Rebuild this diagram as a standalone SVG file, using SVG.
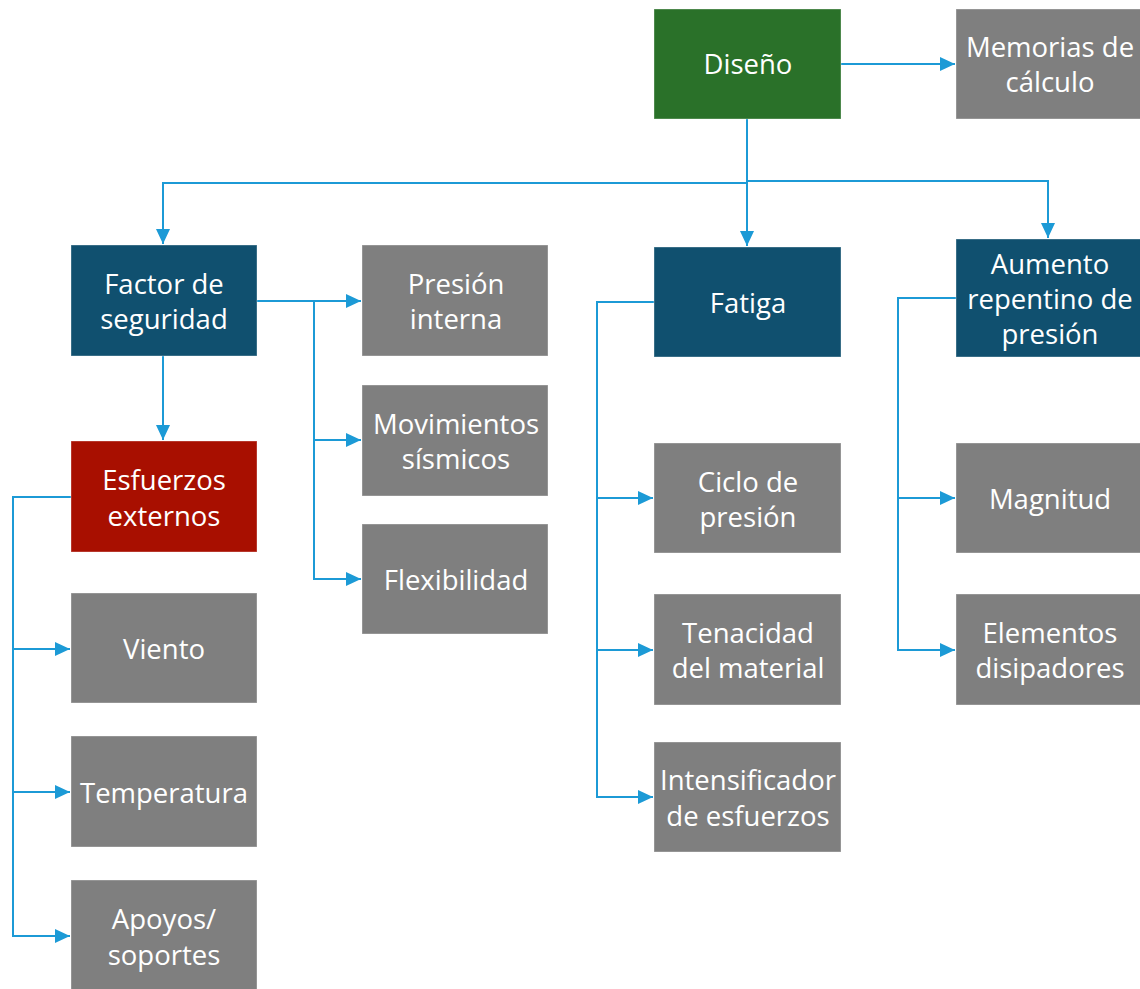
<svg xmlns="http://www.w3.org/2000/svg" width="1140" height="989" viewBox="0 0 1140 989">
  <style>
    .box { stroke: #ffffff; stroke-opacity: 0.35; stroke-width: 1; }
    .root { fill: #2A7129; }
    .main { fill: #10506F; }
    .alert { fill: #A80F00; }
    .leaf { fill: #7F7F7F; }
    .lbl { fill: #ffffff; font-family: "Open Sans", "Noto Sans", "DejaVu Sans", sans-serif; font-size: 27.5px; text-anchor: middle; dominant-baseline: central; }
    .conn { fill: none; stroke: #1C9AD6; stroke-width: 2; }
  </style>
  <defs>
    <marker id="arr" viewBox="0 0 15 14" refX="15" refY="7" markerWidth="15" markerHeight="14" markerUnits="userSpaceOnUse" orient="auto">
      <path d="M0,0 L15,7 L0,14 Z" fill="#1C9AD6"/>
    </marker>
  </defs>

  <rect width="1140" height="989" fill="#ffffff"/>

  <g id="connectors">
    <path class="conn" d="M841,64 H955" marker-end="url(#arr)"/>
    <path class="conn" d="M747,119 V183 H163 V244" marker-end="url(#arr)"/>
    <path class="conn" d="M747,183 V246" marker-end="url(#arr)"/>
    <path class="conn" d="M747,181 H1048 V238" marker-end="url(#arr)"/>
    <path class="conn" d="M163,356 V440" marker-end="url(#arr)"/>
    <path class="conn" d="M257,301 H361" marker-end="url(#arr)"/>
    <path class="conn" d="M314,301 V440 H361" marker-end="url(#arr)"/>
    <path class="conn" d="M314,440 V579 H361" marker-end="url(#arr)"/>
    <path class="conn" d="M71,497 H13 V649 H70" marker-end="url(#arr)"/>
    <path class="conn" d="M13,649 V792 H70" marker-end="url(#arr)"/>
    <path class="conn" d="M13,792 V936 H70" marker-end="url(#arr)"/>
    <path class="conn" d="M654,302 H597 V498 H653" marker-end="url(#arr)"/>
    <path class="conn" d="M597,498 V650 H653" marker-end="url(#arr)"/>
    <path class="conn" d="M597,650 V797 H653" marker-end="url(#arr)"/>
    <path class="conn" d="M956,298 H898 V498 H955" marker-end="url(#arr)"/>
    <path class="conn" d="M898,498 V650 H955" marker-end="url(#arr)"/>
  </g>

  <g id="diseno">
    <rect class="box root" x="654" y="9" width="187" height="110"/>
    <text class="lbl" x="748" y="63">Diseño</text>
  </g>
  <g id="memorias">
    <rect class="box leaf" x="956" y="9" width="186" height="110"/>
    <text class="lbl" x="1050" y="46">Memorias de</text>
    <text class="lbl" x="1050" y="81">cálculo</text>
  </g>
  <g id="factor">
    <rect class="box main" x="71" y="245" width="186" height="111"/>
    <text class="lbl" x="164" y="283">Factor de</text>
    <text class="lbl" x="164" y="318">seguridad</text>
  </g>
  <g id="presion-interna">
    <rect class="box leaf" x="362" y="245" width="186" height="111"/>
    <text class="lbl" x="456" y="283">Presión</text>
    <text class="lbl" x="456" y="318">interna</text>
  </g>
  <g id="movimientos">
    <rect class="box leaf" x="362" y="385" width="186" height="111"/>
    <text class="lbl" x="456" y="423">Movimientos</text>
    <text class="lbl" x="456" y="458">sísmicos</text>
  </g>
  <g id="flexibilidad">
    <rect class="box leaf" x="362" y="524" width="186" height="110"/>
    <text class="lbl" x="456" y="579">Flexibilidad</text>
  </g>
  <g id="fatiga">
    <rect class="box main" x="654" y="247" width="187" height="110"/>
    <text class="lbl" x="748" y="302">Fatiga</text>
  </g>
  <g id="aumento">
    <rect class="box main" x="956" y="239" width="186" height="118"/>
    <text class="lbl" x="1050" y="263">Aumento</text>
    <text class="lbl" x="1050" y="298">repentino de</text>
    <text class="lbl" x="1050" y="333">presión</text>
  </g>
  <g id="esfuerzos">
    <rect class="box alert" x="71" y="441" width="186" height="111"/>
    <text class="lbl" x="164" y="479">Esfuerzos</text>
    <text class="lbl" x="164" y="515">externos</text>
  </g>
  <g id="viento">
    <rect class="box leaf" x="71" y="593" width="186" height="110"/>
    <text class="lbl" x="164" y="648">Viento</text>
  </g>
  <g id="temperatura">
    <rect class="box leaf" x="71" y="736" width="186" height="111"/>
    <text class="lbl" x="164" y="792">Temperatura</text>
  </g>
  <g id="apoyos">
    <rect class="box leaf" x="71" y="880" width="186" height="112"/>
    <text class="lbl" x="164" y="918">Apoyos/</text>
    <text class="lbl" x="164" y="954">soportes</text>
  </g>
  <g id="ciclo">
    <rect class="box leaf" x="654" y="443" width="187" height="110"/>
    <text class="lbl" x="748" y="481">Ciclo de</text>
    <text class="lbl" x="748" y="516">presión</text>
  </g>
  <g id="tenacidad">
    <rect class="box leaf" x="654" y="594" width="187" height="111"/>
    <text class="lbl" x="748" y="632">Tenacidad</text>
    <text class="lbl" x="748" y="667">del material</text>
  </g>
  <g id="intensificador">
    <rect class="box leaf" x="654" y="742" width="187" height="110"/>
    <text class="lbl" x="748" y="779">Intensificador</text>
    <text class="lbl" x="748" y="815">de esfuerzos</text>
  </g>
  <g id="magnitud">
    <rect class="box leaf" x="956" y="443" width="186" height="110"/>
    <text class="lbl" x="1050" y="498">Magnitud</text>
  </g>
  <g id="elementos">
    <rect class="box leaf" x="956" y="594" width="186" height="111"/>
    <text class="lbl" x="1050" y="632">Elementos</text>
    <text class="lbl" x="1050" y="667">disipadores</text>
  </g>
</svg>
